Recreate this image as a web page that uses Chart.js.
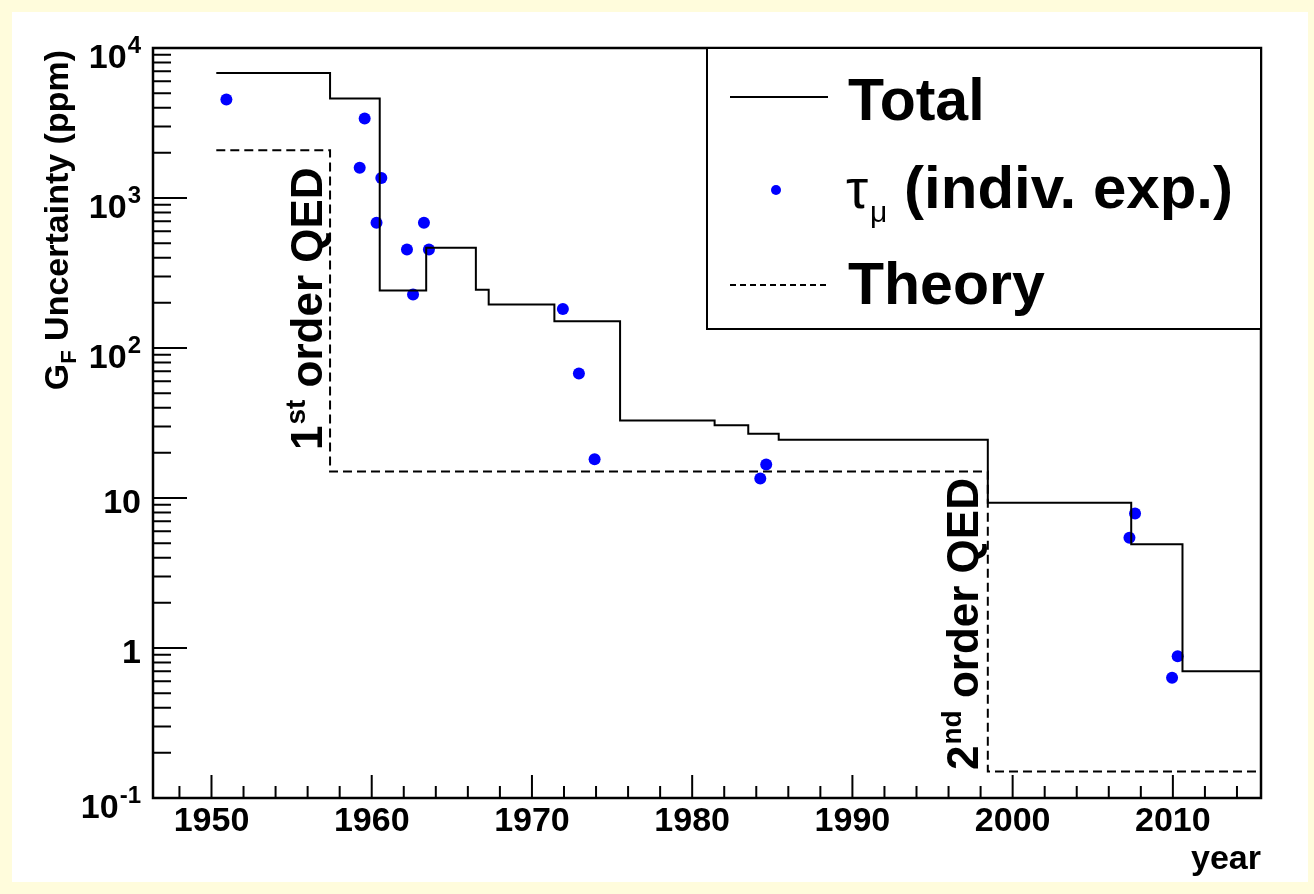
<!DOCTYPE html>
<html>
<head>
<meta charset="utf-8">
<title>G_F uncertainty vs year</title>
<script src="https://cdn.jsdelivr.net/npm/chart.js@4.4.0/dist/chart.umd.min.js"></script>
<style>
  html, body { margin: 0; padding: 0; background: #fffcdc; }
  canvas { display: block; }
</style>
</head>
<body>
<canvas id="canvas" width="1314" height="894"></canvas>
<script>
// step lines: each year is where a new value starts, last entry closes the line
var totalYears  = [1950.3, 1957.4, 1960.5, 1963.4, 1966.5, 1967.3, 1971.4, 1975.5, 1981.4, 1983.5, 1985.4, 1998.45, 2007.4, 2010.6, 2015.5];
var totalValues = [6800, 4600, 242, 466, 245, 195, 151, 32.9, 30.6, 26.8, 24.5, 9.3, 4.92, 0.70, 0.70];

var theoryYears  = [1950.3, 1957.4, 1998.45, 2015.5];
var theoryValues = [2080, 15, 0.15, 0.15];

// tau_mu individual experiments
var expYears  = [1950.93, 1959.56, 1959.25, 1960.6, 1960.3, 1963.26, 1962.2, 1963.57, 1962.58,
                 1971.93, 1972.93, 1973.91, 1984.62, 1984.25, 2007.64, 2007.29, 2010.3, 2009.95];
var expValues = [4540, 3390, 1590, 1360, 684, 684, 454, 454, 227,
                 182, 67.6, 18.1, 16.7, 13.5, 7.88, 5.43, 0.88, 0.633];

var yTickValues = [0.1, 1, 10, 100, 1000, 10000];
var yTickBase   = ['10', '1', '10', '10', '10', '10'];
var yTickExp    = ['-1', '', '', '2', '3', '4'];
var xTickLabels = [1950, 1960, 1970, 1980, 1990, 2000, 2010];

function pairs(xs, ys) {
    return xs.map(function (x, i) { return { x: x, y: ys[i] }; });
}

Chart.defaults.font.family = 'Liberation Sans';
Chart.defaults.color = '#000';

var FONT = 'Liberation Sans';

var rootFrame = {
    id: 'rootFrame',
    beforeDraw: function (chart) {
        var ctx = chart.ctx;
        ctx.save();
        ctx.fillStyle = '#fffcdc';
        ctx.fillRect(0, 0, chart.width, chart.height);
        ctx.fillStyle = '#ffffff';
        ctx.fillRect(12, 12, chart.width - 18, chart.height - 24);
        ctx.restore();
    },
    afterDatasetsDraw: function (chart) {
        var ctx = chart.ctx, a = chart.chartArea;
        var xs = chart.scales.x, ys = chart.scales.y;
        ctx.save();
        ctx.strokeStyle = '#000';
        ctx.lineWidth = 2;
        ctx.beginPath();
        xs.ticks.forEach(function (t) {
            var px = xs.getPixelForValue(t.value);
            var len = xTickLabels.indexOf(t.value) >= 0 ? 23 : 12;
            ctx.moveTo(px, a.bottom);
            ctx.lineTo(px, a.bottom - len);
        });
        ys.ticks.forEach(function (t) {
            var py = ys.getPixelForValue(t.value);
            var len = yTickValues.indexOf(t.value) >= 0 ? 34 : 18;
            ctx.moveTo(a.left, py);
            ctx.lineTo(a.left + len, py);
        });
        ctx.stroke();
        ctx.lineWidth = 2.5;
        ctx.strokeRect(a.left, a.top, a.right - a.left, a.bottom - a.top);
        ctx.lineWidth = 2;

        // y tick labels with real superscripts
        ctx.fillStyle = '#000';
        ctx.textBaseline = 'alphabetic';
        ctx.textAlign = 'left';
        yTickValues.forEach(function (v, i) {
            var py = ys.getPixelForValue(v);
            var right = a.left - 12;
            ctx.font = 'bold 24px ' + FONT;
            var we = yTickExp[i] ? ctx.measureText(yTickExp[i]).width + 1 : 0;
            ctx.font = 'bold 34px ' + FONT;
            var wb = ctx.measureText(yTickBase[i]).width;
            var base = py + (yTickExp[i] ? 20 : 15);
            ctx.fillText(yTickBase[i], right - we - wb, base);
            if (yTickExp[i]) {
                ctx.font = 'bold 24px ' + FONT;
                ctx.fillText(yTickExp[i], right - we + 1, base - 15);
            }
        });

        // y title, G_F with subscript, right aligned at the top of the axis
        var big = 'bold 34px ' + FONT, small = 'bold 22px ' + FONT;
        ctx.font = big;
        var wG = ctx.measureText('G').width;
        var wRest = ctx.measureText(' Uncertainty (ppm)').width;
        ctx.font = small;
        var wF = ctx.measureText('F').width;
        var total = wG + wF + wRest;
        ctx.save();
        ctx.translate(68, a.top + 2 + total);
        ctx.rotate(-Math.PI / 2);
        ctx.font = big;
        ctx.fillText('G', 0, 0);
        ctx.font = small;
        ctx.fillText('F', wG, 8);
        ctx.font = big;
        ctx.fillText(' Uncertainty (ppm)', wG + wF, 0);
        ctx.restore();

        // rotated QED annotations
        function qed(x, y, num, sup) {
            ctx.save();
            ctx.translate(x, y);
            ctx.rotate(-Math.PI / 2);
            ctx.font = 'bold 44px ' + FONT;
            ctx.fillText(num, 0, 0);
            var w = ctx.measureText(num).width;
            ctx.font = 'bold 28px ' + FONT;
            ctx.fillText(sup, w + 1, -17);
            w += ctx.measureText(sup).width + 1;
            ctx.font = 'bold 44px ' + FONT;
            ctx.fillText(' order QED', w, 0);
            ctx.restore();
        }
        qed(xs.getPixelForValue(theoryYears[1]) - 8, 450, '1', 'st');
        qed(xs.getPixelForValue(theoryYears[2]) - 10, 770, '2', 'nd');

        // legend box
        var lx = 707, ly = a.top, lw = a.right - lx, lh = 281;
        ctx.fillStyle = '#fff';
        ctx.fillRect(lx, ly, lw, lh);
        ctx.strokeRect(lx, ly, lw, lh);
        ctx.fillStyle = '#000';
        ctx.lineWidth = 2;
        ctx.beginPath();
        ctx.moveTo(730, 97); ctx.lineTo(828, 97);
        ctx.stroke();
        ctx.setLineDash([6, 4]);
        ctx.beginPath();
        ctx.moveTo(730, 285); ctx.lineTo(826, 285);
        ctx.stroke();
        ctx.setLineDash([]);
        ctx.fillStyle = '#0000ff';
        ctx.beginPath();
        ctx.arc(776, 190, 5, 0, Math.PI * 2);
        ctx.fill();

        ctx.fillStyle = '#000';
        ctx.font = 'bold 59px ' + FONT;
        ctx.fillText('Total', 848, 120);
        ctx.fillText('Theory', 848, 304);
        ctx.font = '56px ' + FONT;
        ctx.fillText('\u03C4', 846, 208);
        var wt = ctx.measureText('\u03C4').width;
        ctx.font = '30px ' + FONT;
        ctx.fillText('\u03BC', 846 + wt + 2, 222);
        var wm = ctx.measureText('\u03BC').width;
        ctx.font = 'bold 60px ' + FONT;
        ctx.fillText(' (indiv. exp.)', 846 + wt + wm + 2, 208);
        ctx.restore();
    }
};

var ctx = document.getElementById('canvas').getContext('2d');
var myChart = new Chart(ctx, {
    type: 'scatter',
    data: {
        datasets: [{
            label: 'Total',
            type: 'line',
            data: pairs(totalYears, totalValues),
            stepped: 'before',
            borderColor: '#000',
            borderWidth: 2,
            pointRadius: 0,
            fill: false
        }, {
            label: 'Theory',
            type: 'line',
            data: pairs(theoryYears, theoryValues),
            stepped: 'before',
            borderColor: '#000',
            borderWidth: 2,
            borderDash: [9, 5],
            pointRadius: 0,
            fill: false
        }, {
            label: 'tau_mu (indiv. exp.)',
            data: pairs(expYears, expValues),
            backgroundColor: '#0000ff',
            borderWidth: 0,
            pointRadius: 6,
            showLine: false
        }]
    },
    options: {
        responsive: false,
        animation: false,
        devicePixelRatio: 1,
        layout: { padding: { left: 0, top: 48, right: 53, bottom: 0 } },
        plugins: {
            legend: { display: false },
            tooltip: { enabled: false }
        },
        scales: {
            x: {
                type: 'linear',
                min: 1946.35,
                max: 2015.5,
                grid: { display: false, drawTicks: false },
                border: { display: false },
                afterBuildTicks: function (scale) {
                    var t = [];
                    for (var y = 1948; y <= 2014; y += 2) t.push({ value: y });
                    scale.ticks = t;
                },
                afterFit: function (scale) { scale.height = 96; },
                ticks: {
                    autoSkip: false,
                    maxRotation: 0,
                    padding: 3,
                    font: { size: 34, weight: 'bold' },
                    callback: function (v) { return xTickLabels.indexOf(v) >= 0 ? String(v) : ''; }
                },
                title: {
                    display: true,
                    text: 'year',
                    align: 'end',
                    font: { size: 34, weight: 'bold' },
                    padding: { top: 0, bottom: 14 }
                }
            },
            y: {
                type: 'logarithmic',
                min: 0.1,
                max: 10000,
                grid: { display: false, drawTicks: false },
                border: { display: false },
                afterBuildTicks: function (scale) {
                    var t = [];
                    for (var e = -1; e <= 3; e++) {
                        for (var m = 1; m <= 9; m++) {
                            t.push({ value: m === 1 ? yTickValues[e + 1] : m * Math.pow(10, e) });
                        }
                    }
                    t.push({ value: yTickValues[5] });
                    scale.ticks = t;
                },
                afterFit: function (scale) { scale.width = 153; },
                ticks: {
                    autoSkip: false,
                    padding: 12,
                    // labels with superscripts are drawn by the rootFrame plugin
                    callback: function () { return ''; }
                }
            }
        }
    },
    plugins: [rootFrame]
});
</script>
</body>
</html>
